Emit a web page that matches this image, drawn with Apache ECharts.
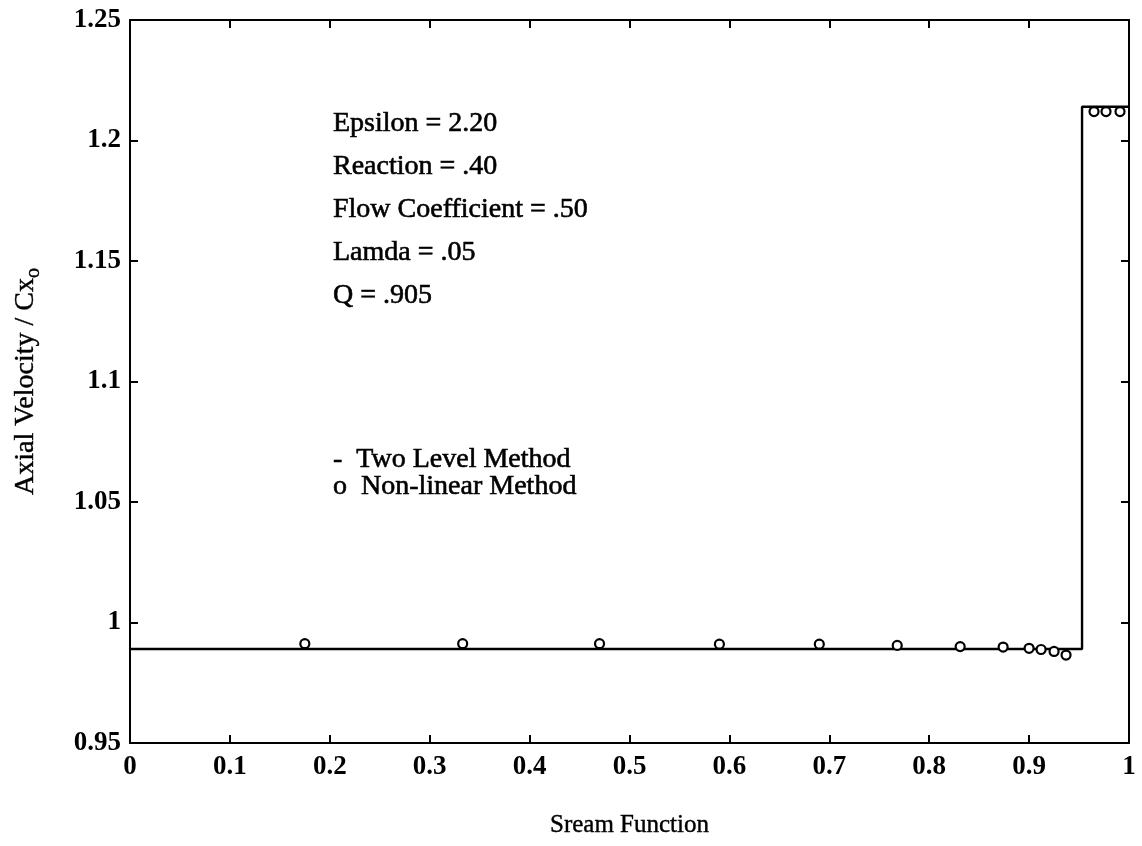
<!DOCTYPE html>
<html>
<head>
<meta charset="utf-8">
<script src="https://cdn.jsdelivr.net/npm/echarts@6/dist/echarts.min.js"></script>
<style>
  html, body { margin: 0; padding: 0; background: #fff; }
  #chart { width: 1142px; height: 846px; }
</style>
</head>
<body>
<div id="chart"></div>
<script>
// Two Level Method: flat core flow, then a step up near the tip
const twoLevelX = [0, 0.953, 0.953, 1.0];
const twoLevelY = [0.989, 0.989, 1.214, 1.214];

// Non-linear Method solution points
const nonLinearX = [0.175, 0.333, 0.470, 0.590, 0.690, 0.768, 0.831, 0.874, 0.900, 0.912, 0.925, 0.937, 0.965, 0.977, 0.991];
const nonLinearY = [0.9912, 0.9912, 0.9912, 0.9910, 0.9910, 0.9905, 0.9900, 0.9898, 0.9893, 0.9888, 0.9880, 0.9865, 1.212, 1.212, 1.212];

// Run parameters printed inside the plot
const paramLines = ['Epsilon = 2.20', 'Reaction = .40', 'Flow Coefficient = .50', 'Lamda = .05', 'Q = .905'];
const legendLines = ['-  Two Level Method', 'o  Non-linear Method'];

const serif = '"Liberation Serif", "DejaVu Serif", serif';
const ink = '#000';

const chart = echarts.init(document.getElementById('chart'));

const tickStyle = { show: true, inside: true, length: 8, lineStyle: { color: ink, width: 2 } };
const lineStyle = { lineStyle: { color: ink, width: 2 } };

// heavier strokes on the in-plot text, like the printed labels
function label(t, x, y) {
  return {
    type: 'text', x: x, y: y,
    style: {
      text: t, font: '28px ' + serif, fill: ink,
      stroke: ink, lineWidth: 0.6, verticalAlign: 'middle', align: 'left'
    }
  };
}

const graphics = [];
paramLines.forEach((t, i) => graphics.push(label(t, 333, 124 + i * 43)));
legendLines.forEach((t, i) => graphics.push(label(t, 333, 460 + i * 27)));

chart.setOption({
  animation: false,
  backgroundColor: '#fff',
  grid: { left: 130, right: 13, top: 20, bottom: 103 },
  xAxis: [
    {
      type: 'value', min: 0, max: 1, interval: 0.1, position: 'bottom',
      axisLine: { show: true, onZero: false, ...lineStyle },
      axisTick: tickStyle,
      splitLine: { show: false },
      axisLabel: {
        color: ink, fontFamily: serif, fontWeight: 'bold', fontSize: 27, margin: 11,
        formatter: v => (v === 0 ? '0' : v === 1 ? '1' : v.toFixed(1))
      },
      name: 'Sream Function', nameLocation: 'middle', nameGap: 70,
      nameTextStyle: { color: ink, fontFamily: serif, fontSize: 25, textBorderColor: ink, textBorderWidth: 0.4 }
    },
    {
      type: 'value', min: 0, max: 1, interval: 0.1, position: 'top',
      axisLine: { show: true, onZero: false, ...lineStyle },
      axisTick: tickStyle, axisLabel: { show: false }, splitLine: { show: false }
    }
  ],
  yAxis: [
    {
      type: 'value', min: 0.95, max: 1.25, interval: 0.05, position: 'left',
      axisLine: { show: true, onZero: false, ...lineStyle },
      axisTick: tickStyle,
      splitLine: { show: false },
      axisLabel: {
        color: ink, fontFamily: serif, fontWeight: 'bold', fontSize: 27, margin: 9,
        formatter: v => String(parseFloat(v.toFixed(2)))
      },
      name: 'Axial Velocity / Cx{sub|o}', nameLocation: 'middle', nameGap: 86, nameRotate: 90,
      nameTextStyle: {
        color: ink, fontFamily: serif, fontSize: 28, textBorderColor: ink, textBorderWidth: 0.4,
        rich: { sub: { fontFamily: serif, fontSize: 20, color: ink, textBorderColor: ink, textBorderWidth: 0.4, padding: [16, 0, 0, 0] } }
      }
    },
    {
      type: 'value', min: 0.95, max: 1.25, interval: 0.05, position: 'right',
      axisLine: { show: true, onZero: false, ...lineStyle },
      axisTick: tickStyle, axisLabel: { show: false }, splitLine: { show: false }
    }
  ],
  series: [
    {
      name: 'Two Level Method', type: 'line', xAxisIndex: 0, yAxisIndex: 0,
      data: twoLevelX.map((x, i) => [x, twoLevelY[i]]),
      showSymbol: false, symbol: 'none',
      lineStyle: { color: ink, width: 2.4 }
    },
    {
      name: 'Non-linear Method', type: 'scatter', xAxisIndex: 0, yAxisIndex: 0,
      data: nonLinearX.map((x, i) => [x, nonLinearY[i]]),
      symbol: 'circle', symbolSize: 9, z: 5,
      itemStyle: { color: '#fff', borderColor: ink, borderWidth: 2.2, opacity: 1 }
    }
  ],
  graphic: graphics
});
</script>
</body>
</html>
